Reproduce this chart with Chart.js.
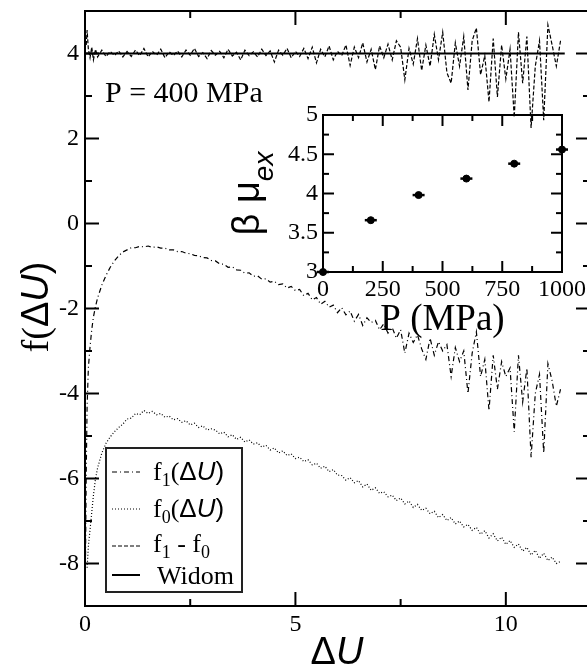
<!DOCTYPE html>
<html><head><meta charset="utf-8">
<script src="https://cdn.jsdelivr.net/npm/chart.js@4/dist/chart.umd.min.js"></script>
<style>
html,body{margin:0;padding:0;overflow:hidden;background:#fff;}
#wrap{position:relative;width:587px;height:666px;overflow:hidden;background:#fff;}
#main{position:absolute;left:0;top:0;}
#inset{position:absolute;left:230px;top:95px;}
</style></head><body>
<div id="wrap">
<canvas id="main" width="600" height="666" style="width:600px;height:666px"></canvas>
<canvas id="inset" width="357" height="250" style="width:357px;height:250px"></canvas>
</div>
<script>
// ---------------- data ----------------
const du = [0.01,0.03,0.05,0.08,0.12,0.16,0.2,0.25,0.3,0.4,0.5,0.6,0.7,0.8,0.9,
 1.0,1.1,1.2,1.3,1.4,1.5,1.6,1.7,1.8,1.9,
 2.0,2.1,2.2,2.3,2.4,2.5,2.6,2.7,2.8,2.9,
 3.0,3.1,3.2,3.3,3.4,3.5,3.6,3.7,3.8,3.9,
 4.0,4.1,4.2,4.3,4.4,4.5,4.6,4.7,4.8,4.9,
 5.0,5.1,5.2,5.3,5.4,5.5,5.6,5.7,5.8,5.9,
 6.0,6.1,6.2,6.3,6.4,6.5,6.6,6.7,6.8,6.9,
 7.0,7.1,7.2,7.3,7.4,7.5,7.6,7.7,7.8,7.9,
 8.0,8.1,8.2,8.3,8.4,8.5,8.6,8.7,8.8,8.9,
 9.0,9.1,9.2,9.3,9.4,9.5,9.6,9.7,9.8,9.9,
 10.0,10.1,10.2,10.3,10.4,10.5,10.6,10.7,10.8,10.9,
 11.0,11.1,11.2,11.3];
const f1 = [-8.1,-5.8,-4.3,-3.4,-2.9,-2.5,-2.2,-1.95,-1.75,-1.45,-1.22,-1.03,-0.88,-0.76,-0.67,
 -0.62,-0.57,-0.57,-0.54,-0.55,-0.53,-0.56,-0.55,-0.58,-0.58,
 -0.62,-0.62,-0.66,-0.66,-0.70,-0.71,-0.75,-0.76,-0.80,-0.81,
 -0.87,-0.88,-0.95,-0.96,-1.03,-1.02,-1.09,-1.10,-1.17,-1.16,
 -1.24,-1.23,-1.31,-1.30,-1.38,-1.36,-1.44,-1.42,-1.52,-1.48,
 -1.58,-1.55,-1.70,-1.64,-1.80,-1.74,-1.90,-1.83,-1.97,-1.92,
 -2.10,-1.98,-2.15,-2.06,-2.30,-2.14,-2.40,-2.22,-2.33,-2.28,
 -2.50,-2.36,-2.58,-2.45,-2.70,-2.50,-3.05,-2.58,-2.80,-2.62,
 -2.95,-3.20,-2.70,-3.10,-2.78,-3.00,-2.85,-3.60,-2.92,-3.25,
 -3.00,-4.00,-3.05,-2.55,-3.60,-3.20,-4.40,-3.10,-3.90,-3.25,
 -3.60,-3.40,-4.90,-3.10,-4.20,-3.40,-5.50,-4.00,-3.55,-5.40,
 -3.30,-3.70,-4.30,-3.90];
const f0 = [null,null,-8.1,-7.6,-7.2,-6.8,-6.4,-6.0,-5.75,-5.4,-5.17,-5.02,-4.9,-4.8,-4.72,
 -4.60,-4.58,-4.47,-4.50,-4.40,-4.47,-4.42,-4.50,-4.47,-4.56,
 -4.53,-4.62,-4.59,-4.68,-4.64,-4.74,-4.70,-4.80,-4.76,-4.86,
 -4.83,-4.86,-4.95,-4.91,-5.02,-4.97,-5.08,-5.03,-5.14,-5.09,
 -5.19,-5.16,-5.26,-5.22,-5.33,-5.28,-5.40,-5.35,-5.46,-5.42,
 -5.53,-5.50,-5.60,-5.56,-5.68,-5.64,-5.76,-5.71,-5.84,-5.79,
 -5.92,-5.93,-6.04,-5.98,-6.10,-6.05,-6.20,-6.13,-6.28,-6.22,
 -6.35,-6.31,-6.43,-6.39,-6.52,-6.46,-6.60,-6.53,-6.68,-6.61,
 -6.75,-6.70,-6.83,-6.77,-6.92,-6.85,-6.99,-6.92,-7.07,-7.00,
 -7.14,-7.08,-7.22,-7.15,-7.31,-7.23,-7.40,-7.30,-7.47,-7.38,
 -7.55,-7.46,-7.62,-7.54,-7.71,-7.62,-7.80,-7.69,-7.88,-7.76,
 -7.93,-7.85,-8.00,-7.95];
const fdiff = [null,4.20,4.55,4.10,3.90,4.15,3.85,4.10,3.92,4.08,3.93,4.05,3.95,4.06,3.92,
 4.05,3.93,4.08,3.95,4.12,3.92,4.05,3.96,4.10,3.90,
 4.04,3.95,4.06,3.92,4.08,3.96,4.12,3.93,4.02,3.88,
 4.07,3.96,4.05,3.90,4.10,3.94,4.03,3.85,4.08,3.95,
 4.04,3.92,4.10,3.95,4.06,3.80,4.08,3.96,4.12,3.90,
 4.05,3.93,4.12,3.88,4.15,3.78,4.10,3.92,4.18,3.85,
 4.05,3.95,4.20,3.72,4.15,3.90,4.25,3.80,4.10,3.62,
 4.18,3.90,4.22,3.85,4.30,4.15,3.38,4.12,3.75,4.35,
 3.60,4.20,3.70,4.45,3.85,4.50,3.55,3.30,4.25,3.70,
 4.40,3.14,4.30,4.60,3.50,3.95,2.86,4.35,2.98,4.20,
 3.40,4.10,2.50,4.50,3.30,4.40,2.25,3.70,4.30,2.43,
 4.67,4.20,3.70,4.30];
const widomX = [0, 11.4];
const widomY = [4, 4];

const pressure = [0, 200, 400, 600, 800, 1000];
const betaMu = [3.0, 3.66, 3.98, 4.19, 4.38, 4.56];

const xMajor = [0, 5, 10], xMinor = [2.5, 7.5];
const yMajor = [-8, -6, -4, -2, 0, 2, 4], yMinor = [-7, -5, -3, -1, 1, 3];
const ixMajor = [0, 250, 500, 750, 1000], ixMinor = [125, 375, 625, 875];
const iyMajor = [3, 3.5, 4, 4.5, 5], iyMinor = [3.25, 3.75, 4.25, 4.75];

const legendLabels = ['f1(ΔU)', 'f0(ΔU)', 'f1 - f0', 'Widom'];

// ---------------- helpers ----------------
const SERIF = "'Liberation Serif','Times New Roman',serif";
const SANS = "'Liberation Sans',Arial,sans-serif";
function pts(xs, ys){ const o=[]; xs.forEach((x,i)=>{ if(ys[i]!==null && ys[i]!==undefined) o.push({x:x,y:ys[i]}); }); return o; }
function drawRuns(ctx, runs, x, y, align){
  let total=0;
  runs.forEach(r=>{ ctx.font=r[1]; r.w=ctx.measureText(r[0]).width; total+=r.w; });
  let cx = align==='center' ? x-total/2 : x;
  ctx.textAlign='left';
  runs.forEach(r=>{ ctx.font=r[1]; ctx.fillText(r[0], cx, y+(r[2]||0)); cx+=r.w; });
}
function seg(ctx,x1,y1,x2,y2){ ctx.beginPath(); ctx.moveTo(x1,y1); ctx.lineTo(x2,y2); ctx.stroke(); }
function fixedTicks(arr){ return function(s){ s.ticks = arr.map(v=>({value:v})); }; }
function fitY(w){ return function(s){ s.width=w; s.paddingTop=0; s.paddingBottom=0; }; }
function fitX(h){ return function(s){ s.height=h; s.paddingLeft=0; s.paddingRight=0; }; }

function framePlugin(id, xMaj, xMin, yMaj, yMin, majLen, minLen, lw){
  return { id, afterDraw(chart){
    const {ctx, chartArea:a, scales:{x,y}} = chart;
    ctx.save(); ctx.strokeStyle='#000'; ctx.lineWidth=lw; ctx.setLineDash([]);
    ctx.strokeRect(a.left, a.top, a.right-a.left, a.bottom-a.top);
    ctx.lineWidth=2;
    const doX=(v,len)=>{ const p=x.getPixelForValue(v); seg(ctx,p,a.bottom,p,a.bottom-len); seg(ctx,p,a.top,p,a.top+len); };
    const doY=(v,len)=>{ const p=y.getPixelForValue(v); seg(ctx,a.left,p,a.left+len,p); seg(ctx,a.right,p,a.right-len,p); };
    xMaj.forEach(v=>doX(v,majLen)); xMin.forEach(v=>doX(v,minLen));
    yMaj.forEach(v=>doY(v,majLen)); yMin.forEach(v=>doY(v,minLen));
    ctx.restore();
  }};
}

const mainText = { id:'mainText', afterDraw(chart){
  const ctx=chart.ctx; ctx.save(); ctx.fillStyle='#000'; ctx.textBaseline='alphabetic';
  ctx.font = "30px "+SERIF; ctx.textAlign='left';
  ctx.fillText('P = 400 MPa', 105, 102);
  drawRuns(ctx, [['Δ', "38px "+SANS, 0], ['U', "italic 38px "+SANS, 0]], 337, 664, 'center');
  ctx.save(); ctx.translate(48, 307); ctx.rotate(-Math.PI/2);
  drawRuns(ctx, [['f(', "38px "+SERIF, 0], ['Δ', "38px "+SANS, 0], ['U', "italic 38px "+SANS, 0], [')', "38px "+SANS, 0]], 0, 0, 'center');
  ctx.restore();
  // legend
  ctx.fillStyle='#fff'; ctx.fillRect(106,448,136,144);
  ctx.strokeStyle='#222'; ctx.lineWidth=2; ctx.setLineDash([]); ctx.strokeRect(106,448,136,144);
  const rows=[472,509,546,575];
  const dashes=[[5,3,1,3],[1,2],[4,2],[]];
  ctx.strokeStyle='#000';
  rows.forEach((ry,i)=>{ ctx.lineWidth = i===3?2:1.2; ctx.setLineDash(dashes[i]); seg(ctx,112,ry,140,ry); });
  ctx.setLineDash([]); ctx.fillStyle='#000';
  const F=" "+SERIF, S=" "+SANS;
  drawRuns(ctx, [['f',"26px"+F,0],['1',"18px"+F,6],['(',"26px"+F,0],['Δ',"26px"+S,0],['U',"italic 26px"+S,0],[')',"26px"+S,0]], 153, rows[0]+8, 'left');
  drawRuns(ctx, [['f',"26px"+F,0],['0',"18px"+F,6],['(',"26px"+F,0],['Δ',"26px"+S,0],['U',"italic 26px"+S,0],[')',"26px"+S,0]], 153, rows[1]+8, 'left');
  drawRuns(ctx, [['f',"26px"+F,0],['1',"18px"+F,6],[' - f',"26px"+F,0],['0',"18px"+F,6]], 153, rows[2]+6, 'left');
  drawRuns(ctx, [[legendLabels[3],"26px"+F,0]], 157, rows[3]+9, 'left');
  ctx.restore();
}};

const insetText = { id:'insetText', afterDraw(chart){
  const ctx=chart.ctx, a=chart.chartArea; ctx.save(); ctx.fillStyle='#000'; ctx.textBaseline='alphabetic';
  ctx.font="37px "+SERIF; ctx.textAlign='center';
  ctx.fillText('P (MPa)', (a.left+a.right)/2, a.bottom+58);
  ctx.translate(a.left-64, (a.top+a.bottom)/2); ctx.rotate(-Math.PI/2);
  drawRuns(ctx, [['β μ', "38px "+SANS, 0], ['ex', "italic 28px "+SANS, 14]], 0, 0, 'center');
  ctx.restore();
}};

// ---------------- main chart ----------------
const tickFont = {family:SERIF, size:24};
new Chart(document.getElementById('main'), {
  type:'scatter',
  data:{ datasets:[
    {label:legendLabels[3], data:pts(widomX,widomY), showLine:true, borderColor:'#000', borderWidth:2, pointRadius:0},
    {label:legendLabels[2], data:pts(du,fdiff), showLine:true, borderColor:'#000', borderWidth:1.2, borderDash:[4,2], pointRadius:0},
    {label:legendLabels[0], data:pts(du,f1), showLine:true, borderColor:'#000', borderWidth:1.2, borderDash:[5,3,1,3], pointRadius:0},
    {label:legendLabels[1], data:pts(du,f0), showLine:true, borderColor:'#000', borderWidth:1.2, borderDash:[1,2], pointRadius:0}
  ]},
  options:{
    responsive:false, animation:false, events:[],
    layout:{padding:{top:11,right:10,left:0,bottom:0}},
    plugins:{legend:{display:false}, tooltip:{enabled:false}},
    scales:{
      x:{type:'linear', min:0, max:12, grid:{display:false, drawTicks:false}, border:{display:false},
         ticks:{font:tickFont, color:'#000', padding:4, maxRotation:0, callback:v=>String(v)},
         afterBuildTicks:fixedTicks(xMajor), afterFit:fitX(60)},
      y:{type:'linear', min:-9, max:5, grid:{display:false, drawTicks:false}, border:{display:false},
         ticks:{font:tickFont, color:'#000', padding:6, callback:v=>String(v)},
         afterBuildTicks:fixedTicks(yMajor), afterFit:fitY(85)}
    }
  },
  plugins:[framePlugin('mainFrame', xMajor, xMinor, yMajor, yMinor, 14, 7, 2), mainText]
});

// ---------------- inset chart ----------------
new Chart(document.getElementById('inset'), {
  type:'scatter',
  data:{ datasets:[
    {data:pts(pressure,betaMu), pointStyle:'circle', pointRadius:3.5, backgroundColor:'#000', borderColor:'#000', borderWidth:1, clip:false},
    {data:pts(pressure,betaMu), pointStyle:'line', pointRadius:6, borderColor:'#000', borderWidth:2.5, clip:false}
  ]},
  options:{
    responsive:false, animation:false, events:[],
    layout:{padding:{top:20,right:25,left:0,bottom:0}},
    plugins:{legend:{display:false}, tooltip:{enabled:false}},
    scales:{
      x:{type:'linear', min:0, max:1000, grid:{display:false, drawTicks:false}, border:{display:false},
         ticks:{font:tickFont, color:'#000', padding:3, maxRotation:0, callback:v=>String(v)},
         afterBuildTicks:fixedTicks(ixMajor), afterFit:fitX(73)},
      y:{type:'linear', min:3, max:5, grid:{display:false, drawTicks:false}, border:{display:false},
         ticks:{font:tickFont, color:'#000', padding:5, callback:v=>String(v)},
         afterBuildTicks:fixedTicks(iyMajor), afterFit:fitY(93)}
    }
  },
  plugins:[framePlugin('insetFrame', ixMajor, ixMinor, iyMajor, iyMinor, 11, 6, 2), insetText]
});
</script>
</body></html>
